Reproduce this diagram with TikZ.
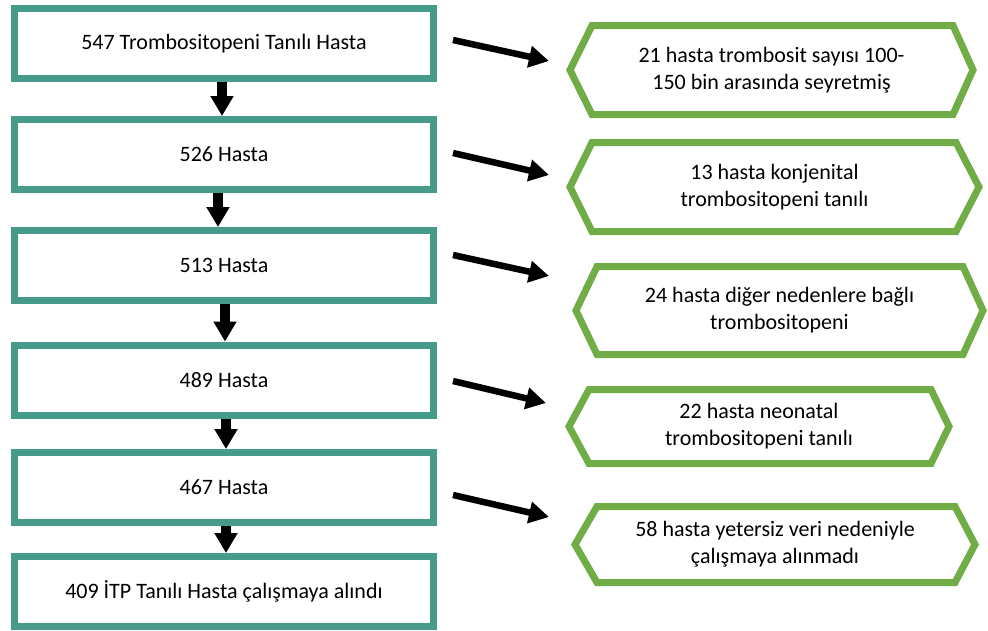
\documentclass[tikz,border=0pt]{standalone}
\usepackage{fontspec}
\setmainfont{Carlito}
\usetikzlibrary{arrows.meta}
\definecolor{tealbox}{HTML}{469B8A}
\definecolor{greenhex}{HTML}{70AD47}
\begin{document}
\begin{tikzpicture}[x=1pt,y=-1pt,
  box/.style={draw=tealbox, line width=7pt, minimum width=419pt, minimum height=70pt,
    inner sep=0pt, fill=white, font=\fontsize{22}{27}\selectfont},
  hexline/.style={draw=greenhex, line width=7pt, line join=miter},
  hextext/.style={align=center, inner sep=0pt, font=\fontsize{22}{27}\selectfont},
  downarrow/.style={line width=10pt, -{Triangle[width=22pt,length=20pt]}},
  sidearrow/.style={line width=6.5pt, -{Triangle[width=21pt,length=20pt]}}]
\useasboundingbox (0,0) rectangle (988,630);

% left column
\node[box] (b1) at (224,43.5) {547 Trombositopeni Tanılı Hasta};
\node[box] (b2) at (224,154.5) {526 Hasta};
\node[box] (b3) at (224,265.5) {513 Hasta};
\node[box] (b4) at (224,380) {489 Hasta};
\node[box] (b5) at (224,487.5) {467 Hasta};
\node[box] (b6) at (224,591.5) {409 İTP Tanılı Hasta çalışmaya alındı};

\draw[downarrow] ([xshift=-2pt]b1.south) -- ([xshift=-2pt]b2.north);
\draw[downarrow] ([xshift=-6pt]b2.south) -- ([xshift=-6pt]b3.north);
\draw[downarrow] ([xshift=1pt]b3.south) -- ([xshift=1pt]b4.north);
\draw[downarrow] ([xshift=2pt]b4.south) -- ([xshift=2pt]b5.north);
\draw[downarrow] ([xshift=2pt]b5.south) -- ([xshift=2pt]b6.north);

% hexagons
\draw[hexline] (570,70) -- (592,25.5) -- (953,25.5) -- (973,70) -- (953,114.5) -- (592,114.5) -- cycle;
\node[hextext] (h1) at (771.5,70) {21 hasta trombosit sayısı 100-\\150 bin arasında seyretmiş};

\draw[hexline] (570,187) -- (592,142.5) -- (956,142.5) -- (979,187) -- (956,231.5) -- (592,231.5) -- cycle;
\node[hextext] (h2) at (774.5,187) {13 hasta konjenital\\trombositopeni tanılı};

\draw[hexline] (576,310.5) -- (597,266.5) -- (963,266.5) -- (983,310.5) -- (963,354.5) -- (597,354.5) -- cycle;
\node[hextext] (h3) at (779.5,310.5) {24 hasta diğer nedenlere bağlı\\trombositopeni};

\draw[hexline] (569,426.5) -- (589,389.5) -- (931,389.5) -- (949,426.5) -- (931,463.5) -- (589,463.5) -- cycle;
\node[hextext] (h4) at (759,426.5) {22 hasta neonatal\\trombositopeni tanılı};

\draw[hexline] (575,544.5) -- (597,506.5) -- (955,506.5) -- (975,544.5) -- (955,582.5) -- (597,582.5) -- cycle;
\node[hextext] (h5) at (775,544.5) {58 hasta yetersiz veri nedeniyle\\çalışmaya alınmadı};

% side arrows
\coordinate (s1) at (453,40);  \coordinate (t1) at (549,61);
\coordinate (s2) at (453,153); \coordinate (t2) at (549,175);
\coordinate (s3) at (453,255); \coordinate (t3) at (549,276);
\coordinate (s4) at (453,381); \coordinate (t4) at (546,403);
\coordinate (s5) at (453,495); \coordinate (t5) at (549,517);
\draw[sidearrow] (s1) -- (t1);
\draw[sidearrow] (s2) -- (t2);
\draw[sidearrow] (s3) -- (t3);
\draw[sidearrow] (s4) -- (t4);
\draw[sidearrow] (s5) -- (t5);
\end{tikzpicture}
\end{document}
